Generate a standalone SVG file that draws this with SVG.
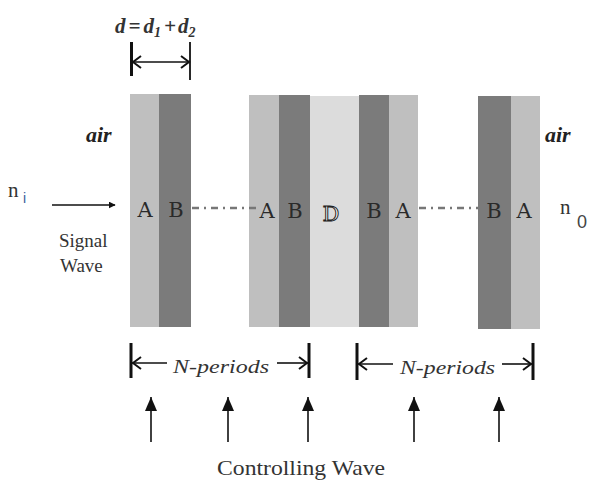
<svg xmlns="http://www.w3.org/2000/svg" width="590" height="486" viewBox="0 0 590 486">
<style>
.la{fill:#bfbfbf}
.lb{fill:#7b7b7b}
.ld{fill:#dcdcdc}
.lbl{font-family:'DejaVu Serif',serif;font-size:21px;fill:#2a2a2a;text-anchor:middle}
.air{font-family:'Liberation Serif',serif;font-size:22px;font-style:italic;font-weight:bold;fill:#222}
.ser{font-family:'Liberation Serif',serif;fill:#333}
.sans{font-family:'Liberation Sans',sans-serif}
.dash{stroke:#777;stroke-width:2.5;fill:none;stroke-dasharray:7 5 2 5}
.ln{stroke:#111;stroke-width:1.6;fill:none}
.bar{stroke:#111;stroke-width:3;fill:none}
.chev{stroke:#111;stroke-width:2;fill:none}
</style>
<defs>
<marker id="tri" viewBox="0 0 10 10" refX="9" refY="5" markerWidth="7" markerHeight="7" markerUnits="userSpaceOnUse" orient="auto">
<path d="M0,0 L10,5 L0,10 z" fill="#111"/>
</marker>
<marker id="up" viewBox="0 0 12 14" refX="6" refY="0" markerWidth="12" markerHeight="14" markerUnits="userSpaceOnUse" orient="0">
<path d="M6,0 L12,14 L0,14 z" fill="#111"/>
</marker>
</defs>

<g id="stack1">
<rect class="la" x="130" y="94" width="29" height="233"/>
<rect class="lb" x="159" y="94" width="32" height="233"/>
<text class="lbl" x="145" y="217">A</text>
<text class="lbl" x="176" y="217">B</text>
</g>

<g id="stack2">
<rect class="la" x="249" y="95" width="30" height="232"/>
<rect class="lb" x="279" y="95" width="31" height="232"/>
<rect class="ld" x="310" y="96" width="49" height="231"/>
<rect class="lb" x="359" y="95" width="30" height="232"/>
<rect class="la" x="389" y="95" width="29" height="232"/>
<text class="lbl" x="267" y="218">A</text>
<text class="lbl" x="295" y="218">B</text>
<text class="lbl" x="331" y="221" style="fill:#fff;stroke:#222;stroke-width:1">D</text>
<text class="lbl" x="374" y="218">B</text>
<text class="lbl" x="403" y="218">A</text>
</g>

<g id="stack3">
<rect class="lb" x="478" y="96" width="33" height="233"/>
<rect class="la" x="511" y="96" width="29" height="233"/>
<text class="lbl" x="494" y="218">B</text>
<text class="lbl" x="524" y="218">A</text>
</g>

<g id="labels">
<text class="air" x="86" y="142">air</text>
<text class="air" x="545" y="142">air</text>
<text class="ser" x="8" y="197" font-size="21">n</text>
<text class="sans" x="23" y="203" font-size="14" fill="#3a5a9a">i</text>
<text class="ser" x="560" y="214" font-size="21">n</text>
<text class="sans" x="577" y="228" font-size="18" fill="#444">0</text>
<text class="ser" x="59" y="247" font-size="19">Signal</text>
<text class="ser" x="60" y="272" font-size="19">Wave</text>
<text class="ser" x="115" y="33" font-size="21" font-style="italic" font-weight="bold" fill="#222">d<tspan dx="3">=</tspan><tspan dx="3">d</tspan><tspan font-size="14" dy="4">1</tspan><tspan dy="-4" dx="3">+</tspan><tspan dx="2">d</tspan><tspan font-size="14" dy="4">2</tspan></text>
<text class="ser" x="173" y="373" font-size="18" font-style="italic" textLength="96" lengthAdjust="spacingAndGlyphs">N-periods</text>
<text class="ser" x="400" y="374" font-size="18" font-style="italic" textLength="95" lengthAdjust="spacingAndGlyphs">N-periods</text>
<text class="ser" x="217" y="475" font-size="21" textLength="168" lengthAdjust="spacingAndGlyphs">Controlling Wave</text>
</g>

<g id="connectors">
<line class="dash" x1="192" y1="208" x2="258" y2="208"/>
<line class="dash" x1="419" y1="208" x2="478" y2="208"/>
<line class="ln" x1="52" y1="205" x2="115" y2="205" marker-end="url(#tri)"/>
<line x1="131.5" y1="42" x2="131.5" y2="76" class="bar"/>
<line x1="190" y1="42" x2="190" y2="80" stroke="#111" stroke-width="1.8"/>
<line class="ln" x1="133" y1="62" x2="189" y2="62"/>
<path class="chev" d="M141,56 L133,62 L141,68 M181,56 L189,62 L181,68"/>
<line class="bar" x1="131" y1="343" x2="131" y2="378"/>
<line class="bar" x1="309" y1="343" x2="309" y2="378"/>
<line class="ln" x1="132" y1="363" x2="167" y2="363"/>
<line class="ln" x1="277" y1="363" x2="308" y2="363"/>
<path class="chev" d="M141,357 L133,363 L141,369 M299,357 L307,363 L299,369"/>
<line class="bar" x1="357" y1="343" x2="357" y2="380"/>
<line class="bar" x1="533" y1="343" x2="533" y2="380"/>
<line class="ln" x1="358" y1="364" x2="393" y2="364"/>
<line class="ln" x1="502" y1="364" x2="532" y2="364"/>
<path class="chev" d="M367,358 L359,364 L367,370 M523,358 L531,364 L523,370"/>
<line class="ln" x1="151" y1="442" x2="151" y2="397" marker-end="url(#up)"/>
<line class="ln" x1="228" y1="442" x2="228" y2="397" marker-end="url(#up)"/>
<line class="ln" x1="308" y1="442" x2="308" y2="397" marker-end="url(#up)"/>
<line class="ln" x1="414" y1="442" x2="414" y2="397" marker-end="url(#up)"/>
<line class="ln" x1="499" y1="442" x2="499" y2="397" marker-end="url(#up)"/>
</g>
</svg>
